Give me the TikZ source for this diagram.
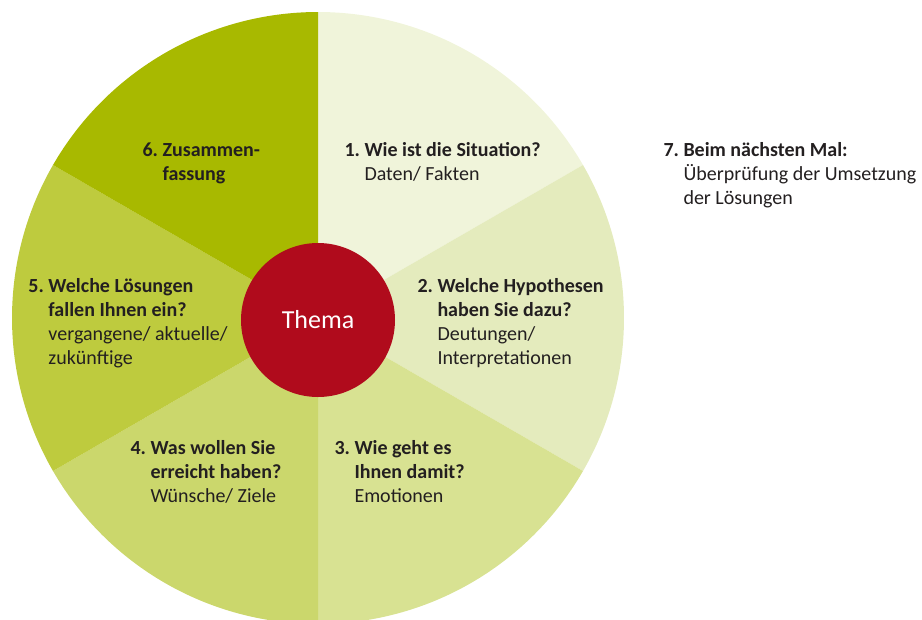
\documentclass[tikz,border=0pt]{standalone}
\usepackage{fontspec}
\setmainfont{Carlito}

\definecolor{secA}{RGB}{240,244,218}
\definecolor{secB}{RGB}{228,235,189}
\definecolor{secC}{RGB}{216,226,146}
\definecolor{secD}{RGB}{203,215,108}
\definecolor{secE}{RGB}{190,203,62}
\definecolor{secF}{RGB}{168,185,0}
\definecolor{themared}{RGB}{176,11,28}
\definecolor{textgray}{RGB}{35,31,32}

\tikzset{every picture/.style={line width=0.75pt}}

\begin{document}
\begin{tikzpicture}[x=0.75pt,y=0.75pt,yscale=-1,xscale=1,
	lbl/.style={anchor=base west,inner sep=0pt,text=textgray,font=\fontsize{15}{18}\selectfont},
	thema/.style={circle,fill=themared,inner sep=0pt,minimum size=115.5pt,text=white,font=\fontsize{19.5}{23}\selectfont}]
	\path[use as bounding box] (0,0) rectangle (922,619);
	\coordinate (c) at (318,318);
	
	%Shape: Sector 1
	\fill [secA] (c) -- ++(-90:306) arc [start angle=-90, end angle=-30, radius=306] -- cycle;
	%Shape: Sector 2
	\fill [secB] (c) -- ++(-30:306) arc [start angle=-30, end angle=30, radius=306] -- cycle;
	%Shape: Sector 3
	\fill [secC] (c) -- ++(30:306) arc [start angle=30, end angle=90, radius=306] -- cycle;
	%Shape: Sector 4
	\fill [secD] (c) -- ++(90:306) arc [start angle=90, end angle=150, radius=306] -- cycle;
	%Shape: Sector 5
	\fill [secE] (c) -- ++(150:306) arc [start angle=150, end angle=210, radius=306] -- cycle;
	%Shape: Sector 6
	\fill [secF] (c) -- ++(210:306) arc [start angle=210, end angle=270, radius=306] -- cycle;
	
	%Shape: Circle
	\node [thema] (thema) at (318,320) {Thema};
	
	% Text Node
	\node [lbl] (s1) at (344,156) {\begin{tabular}[t]{@{}l@{\ }l@{}}\textbf{1.} & \textbf{Wie ist die Situation?}\\ & Daten/ Fakten\end{tabular}};
	% Text Node
	\node [lbl] (s2) at (417,292) {\begin{tabular}[t]{@{}l@{\ }l@{}}\textbf{2.} & \textbf{Welche Hypothesen}\\ & \textbf{haben Sie dazu?}\\ & Deutungen/\\ & Interpretationen\end{tabular}};
	% Text Node
	\node [lbl] (s3) at (334,454) {\begin{tabular}[t]{@{}l@{\ }l@{}}\textbf{3.} & \textbf{Wie geht es}\\ & \textbf{Ihnen damit?}\\ & Emotionen\end{tabular}};
	% Text Node
	\node [lbl] (s4) at (130,454) {\begin{tabular}[t]{@{}l@{\ }l@{}}\textbf{4.} & \textbf{Was wollen Sie}\\ & \textbf{erreicht haben?}\\ & Wünsche/ Ziele\end{tabular}};
	% Text Node
	\node [lbl] (s5) at (28,292) {\begin{tabular}[t]{@{}l@{\ }l@{}}\textbf{5.} & \textbf{Welche Lösungen}\\ & \textbf{fallen Ihnen ein?}\\ & vergangene/ aktuelle/\\ & zukünftige\end{tabular}};
	% Text Node
	\node [lbl] (s6) at (142,156) {\begin{tabular}[t]{@{}l@{\ }l@{}}\textbf{6.} & \textbf{Zusammen-}\\ & \textbf{fassung}\end{tabular}};
	% Text Node
	\node [lbl] (s7) at (663,156) {\begin{tabular}[t]{@{}l@{\ }l@{}}\textbf{7.} & \textbf{Beim nächsten Mal:}\\ & Überprüfung der Umsetzung\\ & der Lösungen\end{tabular}};
	
\end{tikzpicture}
\end{document}
